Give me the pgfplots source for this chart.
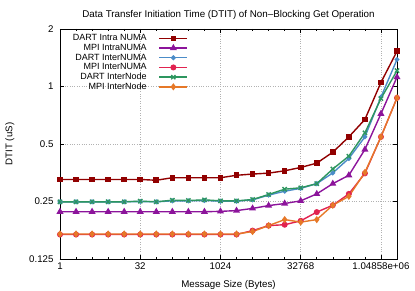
\documentclass[border=0pt]{standalone}
\usepackage{fontspec}
\setmainfont{Liberation Sans}
\usepackage{pgfplots}
\pgfplotsset{compat=1.18}
\definecolor{cDI}{RGB}{145,0,0}
\definecolor{cMI}{RGB}{140,20,155}
\definecolor{cDN}{RGB}{75,140,200}
\definecolor{cMN}{RGB}{225,35,80}
\definecolor{cDX}{RGB}{45,150,95}
\definecolor{cMX}{RGB}{230,120,40}
\begin{document}
\begin{tikzpicture}
\useasboundingbox (-60bp,-32bp) rectangle (355bp,259bp);
\begin{axis}[
  at={(0,0)}, anchor=south west,
  scale only axis, width=337bp, height=230bp,
  xmode=log, ymode=log,
  xmin=1, xmax=2097152, ymin=0.125, ymax=2,
  xtick={1,32,1024,32768,1048576},
  xticklabels={1,32,1024,32768,1.04858e+06},
  minor xtick={2,4,8,16,64,128,256,512,2048,4096,8192,16384,65536,131072,262144,524288},
  ytick={0.125,0.25,0.5,1,2},
  yticklabels={0.125,0.25,0.5,1,2},
  minor ytick={0.125},
  tick align=inside,
  major tick length=4bp, minor tick length=2.5bp,
  grid=major,
  major grid style={gray!60, dotted, line width=0.6pt},
  axis line style={line width=0.8pt},
  every tick/.style={black, line width=0.6pt},
  font=\fontsize{9.7bp}{11.5bp}\selectfont,
  ticklabel style={font=\fontsize{9.7bp}{11.5bp}\selectfont},
  yticklabel style={xshift=-3bp},
  title={Data Transfer Initiation Time (DTIT) of Non{\textendash}Blocking Get Operation},
  title style={yshift=0bp, font=\fontsize{9.8bp}{11.5bp}\selectfont},
  xlabel={Message Size (Bytes)},
  ylabel={DTIT (uS)},
  xlabel style={yshift=-4.5bp},
  ylabel style={yshift=8bp},
  legend cell align=right,
  legend plot pos=right,
  legend style={at={(rel axis cs:0.380,0.9804)}, anchor=north east, draw=none, fill=none,
    inner sep=0pt, outer sep=0pt,
    font=\fontsize{9bp}{11bp}\selectfont, row sep=0pt,
    nodes={inner sep=0.6pt, text height=6.7bp, text depth=1.8bp}},
  legend image code/.code={\path (0bp,0bp); \draw[mark repeat=2,mark phase=2,#1] plot coordinates {(11.4bp,0bp) (25.4bp,0bp) (39.4bp,0bp)};},
  every axis plot/.append style={line width=1.4pt, mark options={solid}},
]
\addplot[cDI, mark=square*, mark size=2.1pt] coordinates {
(1,0.326)(2,0.326)(4,0.326)(8,0.326)(16,0.326)(32,0.326)(64,0.323)(128,0.333)(256,0.333)(512,0.333)(1024,0.333)
(2048,0.343)(4096,0.348)(8192,0.352)(16384,0.362)(32768,0.377)(65536,0.397)(131072,0.453)(262144,0.545)(524288,0.672)(1048576,1.05)(2097152,1.53)};
\addlegendentry{DART Intra NUMA}
\addplot[cMI, mark=triangle*, mark size=2.7pt] coordinates {
(1,0.221)(2,0.221)(4,0.221)(8,0.221)(16,0.221)(32,0.221)(64,0.221)(128,0.221)(256,0.221)(512,0.221)(1024,0.222)
(2048,0.224)(4096,0.230)(8192,0.238)(16384,0.244)(32768,0.252)(65536,0.274)(131072,0.31)(262144,0.343)(524288,0.468)(1048576,0.72)(2097152,1.12)};
\addlegendentry{MPI IntraNUMA}
\addplot[cDN, mark=*, mark size=1.7pt] coordinates {
(1,0.249)(2,0.249)(4,0.249)(8,0.249)(16,0.249)(32,0.250)(64,0.249)(128,0.252)(256,0.252)(512,0.253)(1024,0.251)
(2048,0.251)(4096,0.255)(8192,0.270)(16384,0.283)(32768,0.293)(65536,0.31)(131072,0.353)(262144,0.42)(524288,0.545)(1048576,0.88)(2097152,1.385)};
\addlegendentry{DART InterNUMA}
\addplot[cMN, mark=*, mark size=2.3pt] coordinates {
(1,0.168)(2,0.168)(4,0.168)(8,0.168)(16,0.168)(32,0.168)(64,0.168)(128,0.168)(256,0.168)(512,0.168)(1024,0.168)
(2048,0.168)(4096,0.176)(8192,0.187)(16384,0.189)(32768,0.198)(65536,0.22)(131072,0.239)(262144,0.274)(524288,0.351)(1048576,0.545)(2097152,0.872)};
\addlegendentry{MPI InterNUMA}
\addplot[cDX, mark=x, mark size=3pt, mark options={line width=1.4pt}] coordinates {
(1,0.249)(2,0.249)(4,0.249)(8,0.249)(16,0.249)(32,0.251)(64,0.249)(128,0.254)(256,0.253)(512,0.255)(1024,0.252)
(2048,0.252)(4096,0.256)(8192,0.272)(16384,0.29)(32768,0.295)(65536,0.31)(131072,0.37)(262144,0.432)(524288,0.572)(1048576,0.865)(2097152,1.21)};
\addlegendentry{DART InterNode}
\addplot[cMX, mark=diamond*, mark size=2.5pt] coordinates {
(1,0.169)(2,0.169)(4,0.169)(8,0.169)(16,0.169)(32,0.169)(64,0.169)(128,0.169)(256,0.169)(512,0.169)(1024,0.169)
(2048,0.169)(4096,0.174)(8192,0.187)(16384,0.201)(32768,0.195)(65536,0.201)(131072,0.239)(262144,0.266)(524288,0.355)(1048576,0.545)(2097152,0.872)};
\addlegendentry{MPI InterNode}
\end{axis}
\end{tikzpicture}
\end{document}
